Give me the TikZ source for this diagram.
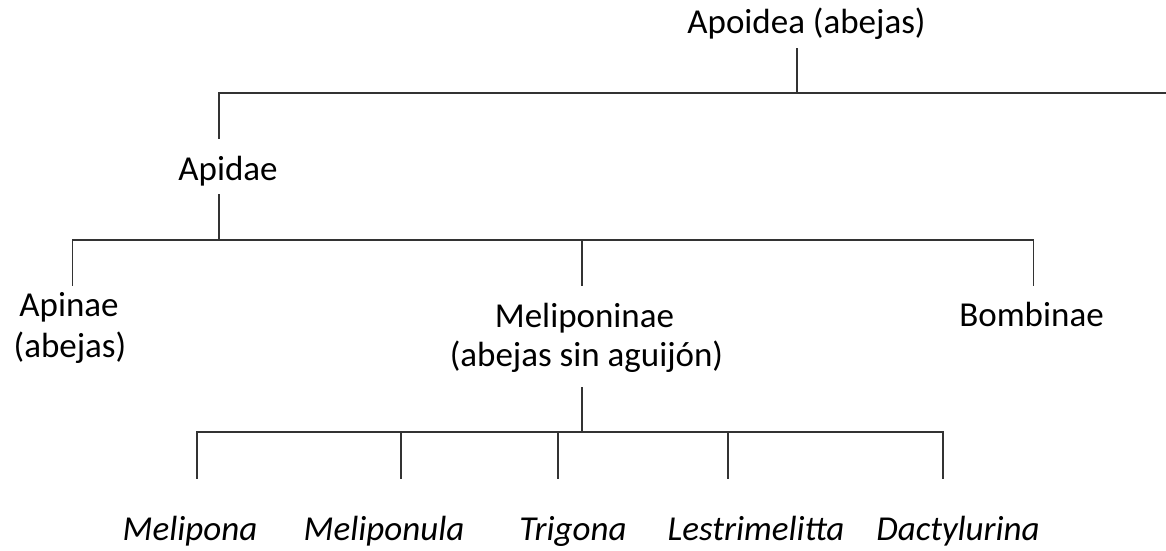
\documentclass[tikz,border=0pt]{standalone}
\usepackage{fontspec}
\setmainfont{Carlito}
\begin{document}
\begin{tikzpicture}[x=1pt,y=-1pt,
  lbl/.style={anchor=base, inner sep=0pt, font=\fontsize{35}{41}\selectfont},
  gen/.style={anchor=base, inner sep=0pt, font=\fontsize{35}{41}\selectfont\itshape},
  link/.style={draw=black!80, line width=1.1pt, line cap=rect}]
\useasboundingbox (0,0) rectangle (1166,550);
% labels
\node[lbl] (apoidea) at (806.5,33) {Apoidea (abejas)};
\node[lbl] (apidae) at (228,180) {Apidae};
\node[lbl] (apinae) at (69,316) {Apinae};
\node[lbl] (apinae2) at (70,357) {(abejas)};
\node[lbl] (melip) at (584.5,327) {Meliponinae};
\node[lbl] (melip2) at (586.5,366) {(abejas sin aguijón)};
\node[lbl] (bomb) at (1031.5,326) {Bombinae};
\node[gen] (g1) at (190,540) {Melipona};
\node[gen] (g2) at (384,540) {Meliponula};
\node[gen] (g3) at (573,540) {Trigona};
\node[gen] (g4) at (756,540) {Lestrimelitta};
\node[gen] (g5) at (958,540) {Dactylurina};
% junction coordinates
\coordinate (a0) at (797,49);
\coordinate (a1) at (797,93);
\coordinate (aL) at (219,93);
\coordinate (aR) at (1166,93);
\coordinate (ap0) at (219,138);
\coordinate (ap1) at (219,195);
\coordinate (ap2) at (219,240);
\coordinate (hL) at (72.5,240);
\coordinate (hM) at (582,240);
\coordinate (hR) at (1033.5,240);
\coordinate (pL) at (72.5,285);
\coordinate (pM) at (582,285);
\coordinate (pR) at (1033.5,285);
\coordinate (m0) at (582,388);
\coordinate (m1) at (582,432);
\coordinate (b1) at (197,432);
\coordinate (b2) at (401,432);
\coordinate (b3) at (558,432);
\coordinate (b4) at (728,432);
\coordinate (b5) at (943,432);
\coordinate (e1) at (197,478);
\coordinate (e2) at (401,478);
\coordinate (e3) at (558,478);
\coordinate (e4) at (728,478);
\coordinate (e5) at (943,478);
% connectors
\draw[link] (a0) -- (a1);
\draw[link] (aL) -- (aR);
\draw[link] (aL) -- (ap0);
\draw[link] (ap1) -- (ap2);
\draw[link] (hL) -- (hR);
\draw[link] (hL) -- (pL);
\draw[link] (hM) -- (pM);
\draw[link] (hR) -- (pR);
\draw[link] (m0) -- (m1);
\draw[link] (b1) -- (b5);
\draw[link] (b1) -- (e1);
\draw[link] (b2) -- (e2);
\draw[link] (b3) -- (e3);
\draw[link] (b4) -- (e4);
\draw[link] (b5) -- (e5);
\end{tikzpicture}
\end{document}
